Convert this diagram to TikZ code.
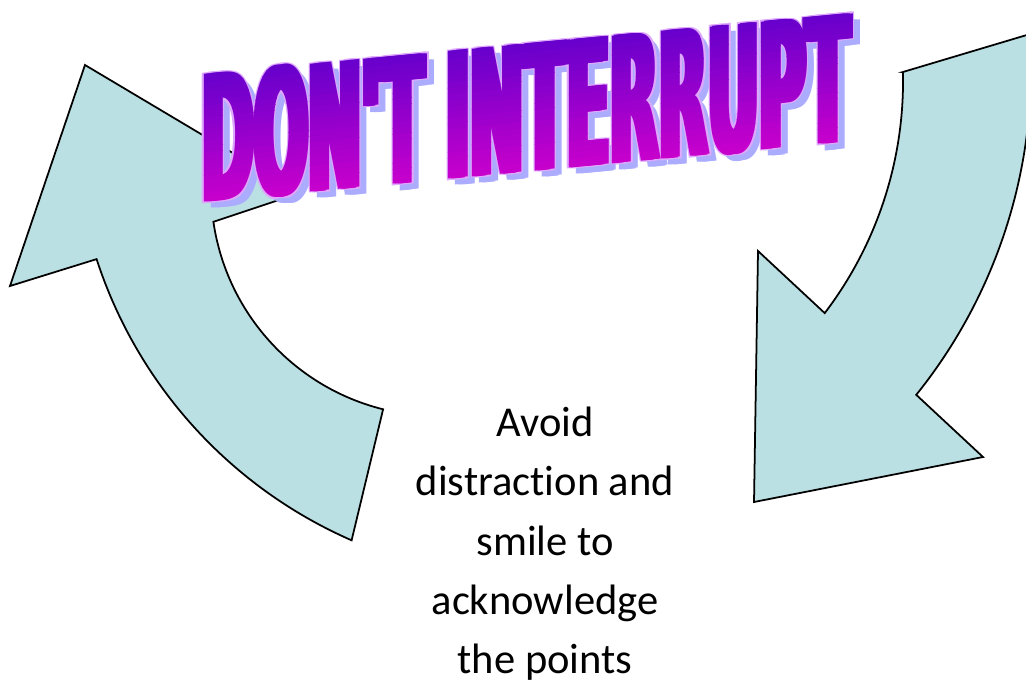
\documentclass[tikz,border=0pt]{standalone}
\usepackage{fontspec}
\setmainfont{Carlito}[Ligatures={NoCommon}]
\newfontfamily\titlefont{DejaVu Sans}
\usepackage{graphicx}
\definecolor{arrowfill}{RGB}{186,224,227}
\definecolor{titletop}{RGB}{100,0,204}
\definecolor{titlebot}{RGB}{206,0,204}
\definecolor{titleshadow}{RGB}{172,172,255}
\definecolor{titleline}{RGB}{222,168,252}
\newcommand\ttltext{\resizebox{12.96cm}{2.6cm}{\titlefont\bfseries DON'T INTERRUPT}}
\begin{document}
\begin{tikzpicture}[x=0.02cm,y=-0.02cm,
  arrowshape/.style={fill=arrowfill,draw=black,line width=1pt,line join=miter},
  ttl/.style={inner sep=0pt,outer sep=0pt,anchor=base west,transform shape},
  bodytext/.style={inner sep=0pt,align=center,font=\fontsize{24.2}{33.7}\selectfont}]
\useasboundingbox (0,0) rectangle (1026,679);
\clip (0,0) rectangle (1026,679);

% left arrow (curving up)
\draw[arrowshape] (85,65) -- (300,193) -- (213.4,221.8)
  arc[start angle=171.7,end angle=104,radius=227]
  -- (351.6,540.3)
  arc[start angle=113.6,end angle=162,radius=463]
  -- (10,286) -- cycle;

% right arrow (curving down)
\draw[arrowshape] (902.9,72) -- (1029.8,34.1)
  arc[start angle=-3.85,end angle=38.8,radius=520]
  -- (983,457) -- (754,502) -- (758,251) -- (824.7,313.1)
  arc[start angle=37.3,end angle=-1.35,radius=383]
  -- cycle;

% title (WordArt style)
\begin{scope}[shift={(198,202.6)},yslant=0.094]
  \foreach \dx in {0,2.5,5,7.5}
    \node[ttl,text=titleshadow] at (\dx+7,7) {\ttltext};
  \foreach \dx in {-1.3,1.5,4,6.5,8.8}
    \foreach \dy in {-1.3,1.3}
      \node[ttl,text=titleline] at (\dx,\dy) {\ttltext};
  \foreach \i in {0,...,23}{
    \pgfmathsetmacro\ya{8-140*\i/24}
    \pgfmathsetmacro\yb{8-140*(\i+1)/24}
    \pgfmathtruncatemacro\p{100*(\i+0.5)/24}
    \colorlet{bandcol}{titletop!\p!titlebot}
    \begin{scope}
      \clip (-20,\ya) rectangle (720,\yb);
      \foreach \dx in {0,2.5,5,7.5}
        \node[ttl,text=bandcol] at (\dx,0) {\ttltext};
    \end{scope}
  }
\end{scope}

% body text
\node[bodytext] (body) at (545,543.7) {Avoid\\distraction and\\smile to\\acknowledge\\the points};
\end{tikzpicture}
\end{document}
